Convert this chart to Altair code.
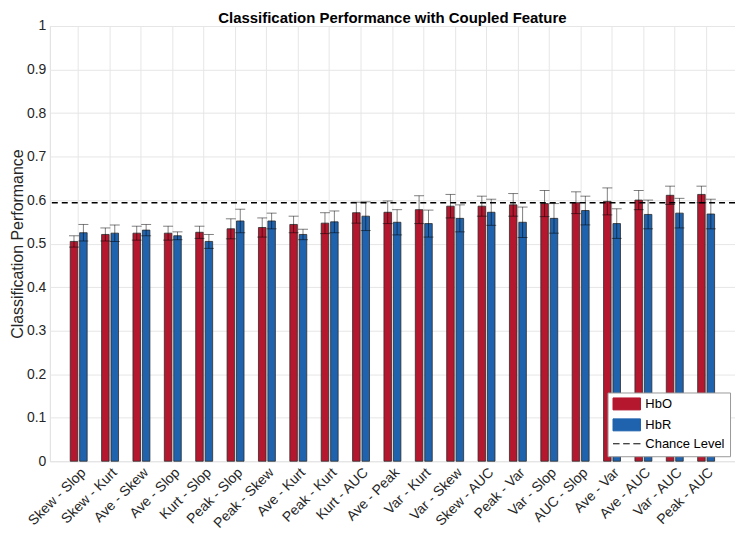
import altair as alt
import pandas as pd

categories = ["Skew - Slop", "Skew - Kurt", "Ave - Skew", "Ave - Slop", "Kurt - Slop",
              "Peak - Slop", "Peak - Skew", "Ave - Kurt", "Peak - Kurt", "Kurt - AUC",
              "Ave - Peak", "Var - Kurt", "Var - Skew", "Skew - AUC", "Peak - Var",
              "Var - Slop", "AUC - Slop", "Ave - Var", "Ave - AUC", "Var - AUC", "Peak - AUC"]
hbo = [0.505, 0.521, 0.524, 0.524, 0.526, 0.534, 0.537, 0.544, 0.547, 0.571, 0.572,
       0.578, 0.586, 0.586, 0.589, 0.592, 0.594, 0.597, 0.600, 0.611, 0.613]
hbo_err = [0.013, 0.015, 0.016, 0.016, 0.014, 0.023, 0.022, 0.019, 0.024, 0.024, 0.026,
           0.032, 0.027, 0.023, 0.026, 0.030, 0.025, 0.031, 0.022, 0.021, 0.019]
hbr = [0.525, 0.524, 0.531, 0.518, 0.505, 0.552, 0.552, 0.521, 0.550, 0.563, 0.549,
       0.546, 0.558, 0.572, 0.549, 0.558, 0.576, 0.546, 0.567, 0.570, 0.568]
hbr_err = [0.019, 0.019, 0.013, 0.009, 0.016, 0.027, 0.018, 0.012, 0.025, 0.033, 0.029,
           0.031, 0.031, 0.030, 0.035, 0.034, 0.033, 0.034, 0.033, 0.034, 0.034]
chance_level = 0.594
series_names = ["HbO", "HbR"]
legend_names = ["HbO", "HbR", "Chance Level"]
colors = ["#B5172E", "#1F63AE", "#000000"]
y_ticks = [0, 0.1, 0.2, 0.3, 0.4, 0.5, 0.6, 0.7, 0.8, 0.9, 1]

rows = []
for i, c in enumerate(categories):
    rows.append({"cat": c, "series": "HbO", "value": hbo[i],
                 "lo": hbo[i] - hbo_err[i], "hi": hbo[i] + hbo_err[i]})
    rows.append({"cat": c, "series": "HbR", "value": hbr[i],
                 "lo": hbr[i] - hbr_err[i], "hi": hbr[i] + hbr_err[i]})
df = pd.DataFrame(rows)
chance_df = pd.DataFrame({"level": [chance_level], "name": ["Chance Level"]})

FONT = "Liberation Sans"
YTITLE = "Classification Performance"

x_enc = alt.X("cat:N", sort=categories, title=None,
              scale=alt.Scale(paddingInner=0.46, paddingOuter=0.65),
              axis=alt.Axis(labelAngle=-45, labelFontSize=14, labelColor="#262626",
                            labelFont=FONT, grid=True, gridColor="#e6e6e6",
                            bandPosition=0.5, ticks=False, domain=False, labelPadding=4))
xoff = alt.XOffset("series:N", sort=series_names, scale=alt.Scale(paddingInner=0.2))
y_scale = alt.Scale(domain=[0, 1], nice=False)
y_axis = alt.Axis(values=y_ticks, format="~g", labelFontSize=14, labelColor="#262626",
                  labelFont=FONT, titleFont=FONT, titleFontSize=16, titleFontWeight="normal",
                  titleColor="#262626", titlePadding=1, ticks=False, domain=False,
                  labelPadding=4, gridColor="#e6e6e6")

sym_expr = ("datum.label == 'Chance Level' ? "
            "'M-1,0H0.1M0.7,0H1.8M2.4,0H3.6' : 'M-1,-1H3.6V1H-1Z'")

bars = alt.Chart(df).mark_bar(stroke="#2b2b2b", strokeWidth=0.8).encode(
    x=x_enc, xOffset=xoff,
    y=alt.Y("value:Q", scale=y_scale, axis=y_axis, title=YTITLE),
    color=alt.Color("series:N",
                    scale=alt.Scale(domain=legend_names, range=colors),
                    legend=alt.Legend(title=None, orient="bottom-right", offset=5,
                                      padding=5, fillColor="white", strokeColor="#999999",
                                      labelFontSize=13, labelFont=FONT, labelColor="#000",
                                      symbolSize=144, symbolType=alt.ExprRef(sym_expr),
                                      symbolStrokeColor="#2b2b2b", symbolStrokeWidth=1,
                                      symbolOpacity=1, labelOffset=20, rowPadding=4)),
)

err = alt.Chart(df).mark_rule(color="#000000", opacity=0.5, strokeWidth=1).encode(
    x=x_enc, xOffset=xoff,
    y=alt.Y("lo:Q", scale=y_scale, title=YTITLE), y2="hi:Q")
cap_lo = alt.Chart(df).mark_tick(color="#000000", opacity=0.5, thickness=1, size=10).encode(
    x=x_enc, xOffset=xoff, y=alt.Y("lo:Q", scale=y_scale, title=YTITLE))
cap_hi = alt.Chart(df).mark_tick(color="#000000", opacity=0.5, thickness=1, size=10).encode(
    x=x_enc, xOffset=xoff, y=alt.Y("hi:Q", scale=y_scale, title=YTITLE))

chance = alt.Chart(chance_df).mark_rule(strokeDash=[6, 4], strokeWidth=1.5).encode(
    y=alt.Y("level:Q", scale=y_scale, title=YTITLE),
    color=alt.Color("name:N"))

chart = alt.layer(bars, err, cap_lo, cap_hi, chance).properties(
    width=688, height=437,
    title=alt.TitleParams("Classification Performance with Coupled Feature", fontSize=15,
                          fontWeight="bold", font=FONT, anchor="middle", offset=3, dy=22,
                          frame="group", baseline="alphabetic", color="#000"),
    autosize=alt.AutoSizeParams(type="none"),
    padding={"left": 42, "top": 17, "right": 0, "bottom": 68},
).configure_view(stroke="#8a8a8a", strokeWidth=1).configure(font=FONT)

chart.save("out.html", embed_options={"renderer": "svg", "actions": False})
